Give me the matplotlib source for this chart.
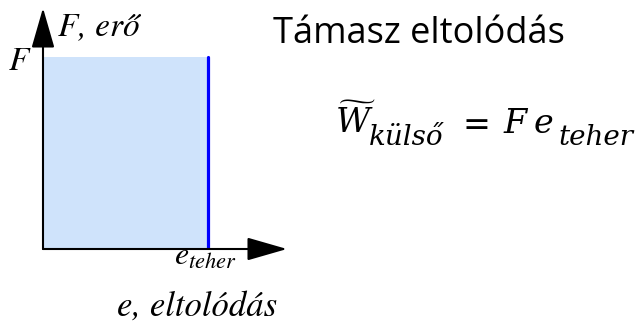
import matplotlib.pyplot as plt
import numpy as np

plt.rcParams['mathtext.fontset'] = 'stix'

# data (arbitrary units): a constant force F acting over the displacement e_teher
F = 1.0
e_teher = 1.0
e_max = 1.479
F_max = 1.255

title = 'Támasz eltolódás'
# W~_külső = F e_teher, written piece by piece so the subscripts keep their size
formula_main = [r'$\widetilde{W}$', r'$=$', r'$F$', r'$e$']
formula_sub = ['külső', 'teher']

W, H = 639, 324
fig = plt.figure(figsize=(W / 100, H / 100), dpi=100)
ax = fig.add_axes([43 / W, 75 / H, 244 / W, 241 / H])
ax.set_xlim(0, e_max)
ax.set_ylim(0, F_max)
ax.axis('off')

# work area
ax.fill_between([0, e_teher], 0, F, color='#cfe3fb', lw=0)
ax.plot([e_teher, e_teher], [0, F], color='#0000ff', lw=2.3, solid_capstyle='round')

# axes with arrows
arrow = dict(arrowstyle='-|>,head_length=2.5,head_width=0.72', color='black', lw=1.5,
             shrinkA=0, shrinkB=0)
ax.annotate('', xy=(e_max, 0), xytext=(0, 0), arrowprops=arrow, annotation_clip=False)
ax.annotate('', xy=(0, F_max), xytext=(0, 0), arrowprops=arrow, annotation_clip=False)


def px(x, y):
    return x / W, 1 - y / H


lab = dict(fontsize=24, family='STIXGeneral', style='italic', va='baseline')
fig.text(*px(58, 35), 'F, erő', ha='left', **lab)
fig.text(*px(29, 70), 'F', ha='right', **lab)
fig.text(*px(174, 265), r'$e_{teher}$', ha='left', va='baseline', fontsize=23)
fig.text(*px(117, 316), 'e, eltolódás', ha='left', fontsize=25, family='STIXGeneral',
         style='italic', va='baseline')

fig.text(*px(273, 43), title, fontsize=26, ha='left', va='baseline', family='Open Sans')

# formula
main_x = [335, 456, 503, 533]
sub_x = [369, 558]
for s, x in zip(formula_main, main_x):
    fig.text(*px(x, 133), s, fontsize=24, ha='left', va='baseline',
             math_fontfamily='dejavuserif')
for s, x in zip(formula_sub, sub_x):
    fig.text(*px(x, 145), s, fontsize=20, ha='left', va='baseline',
             family='DejaVu Serif', style='italic')

fig.savefig('out.png', dpi=100)
